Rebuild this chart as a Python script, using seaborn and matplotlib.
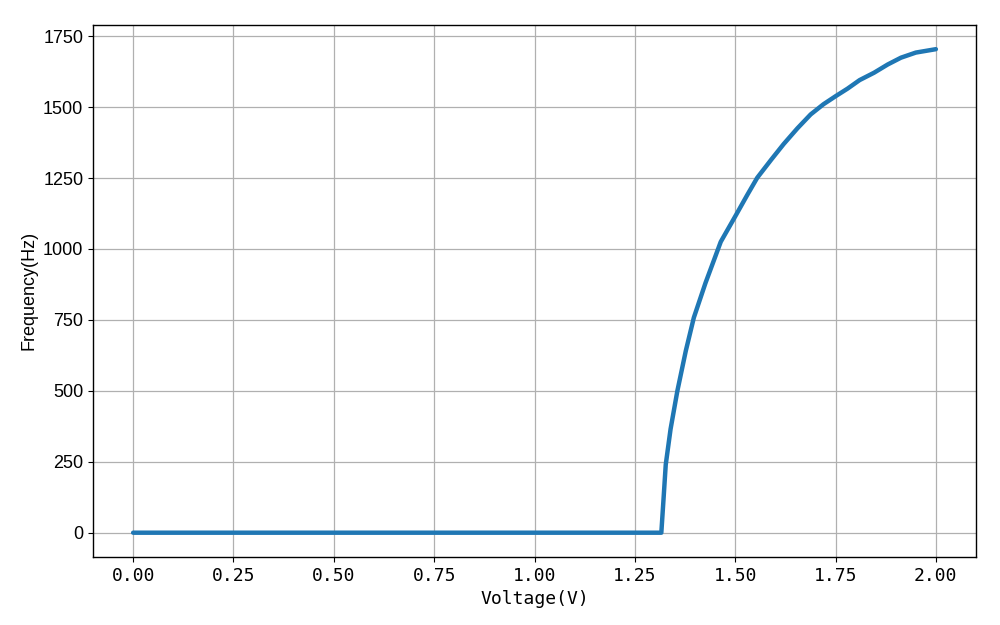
import numpy as np
import pandas as pd
import matplotlib
matplotlib.use("Agg")
import matplotlib.pyplot as plt
import seaborn as sns

# Voltage sweep (V) and measured output frequency (Hz)
voltage = [0.00, 0.25, 0.50, 0.75, 1.00, 1.25, 1.316, 1.322, 1.327, 1.339, 1.356,
           1.377, 1.397, 1.426, 1.447, 1.464, 1.472, 1.503, 1.530, 1.555,
           1.590, 1.621, 1.655, 1.688, 1.720, 1.751, 1.780, 1.810, 1.846,
           1.880, 1.913, 1.950, 2.000]
frequency = [0, 0, 0, 0, 0, 0, 0, 130, 240, 365, 500,
             641, 758, 880, 960, 1025, 1045, 1122, 1190, 1251,
             1315, 1370, 1425, 1474, 1510, 1539, 1565, 1595, 1621,
             1650, 1674, 1692, 1704]

df = pd.DataFrame({"Voltage": voltage, "Frequency": frequency})

sns.set_style("ticks")
plt.rcParams["font.family"] = ["Liberation Sans", "DejaVu Sans"]
plt.rcParams["text.color"] = "black"
plt.rcParams["xtick.color"] = "black"
plt.rcParams["ytick.color"] = "black"
plt.rcParams["axes.labelcolor"] = "black"

fig, ax = plt.subplots(figsize=(10, 6.25), dpi=100)
sns.lineplot(data=df, x="Voltage", y="Frequency", ax=ax, color="#1f77b4",
             linewidth=3.2, sort=False)

ax.set_yticks(np.arange(0, 1751, 250))
ax.set_xticks(np.arange(0, 2.01, 0.25))
ax.set_xticklabels([f"{v:.2f}" for v in np.arange(0, 2.01, 0.25)],
                   family=["DejaVu Sans Mono"], fontsize=13)
ax.tick_params(axis="y", labelsize=13)
ax.set_xlabel("Voltage(V)", family=["DejaVu Sans Mono"], fontsize=13)
ax.set_ylabel("Frequency(Hz)", fontsize=13)
ax.grid(True, color="#b0b0b0", linewidth=0.9)
for s in ax.spines.values():
    s.set_visible(True)
    s.set_color("black")
    s.set_linewidth(1.0)

fig.subplots_adjust(left=0.093, right=0.976, top=0.96, bottom=0.109)
fig.savefig("out.png", dpi=100)
